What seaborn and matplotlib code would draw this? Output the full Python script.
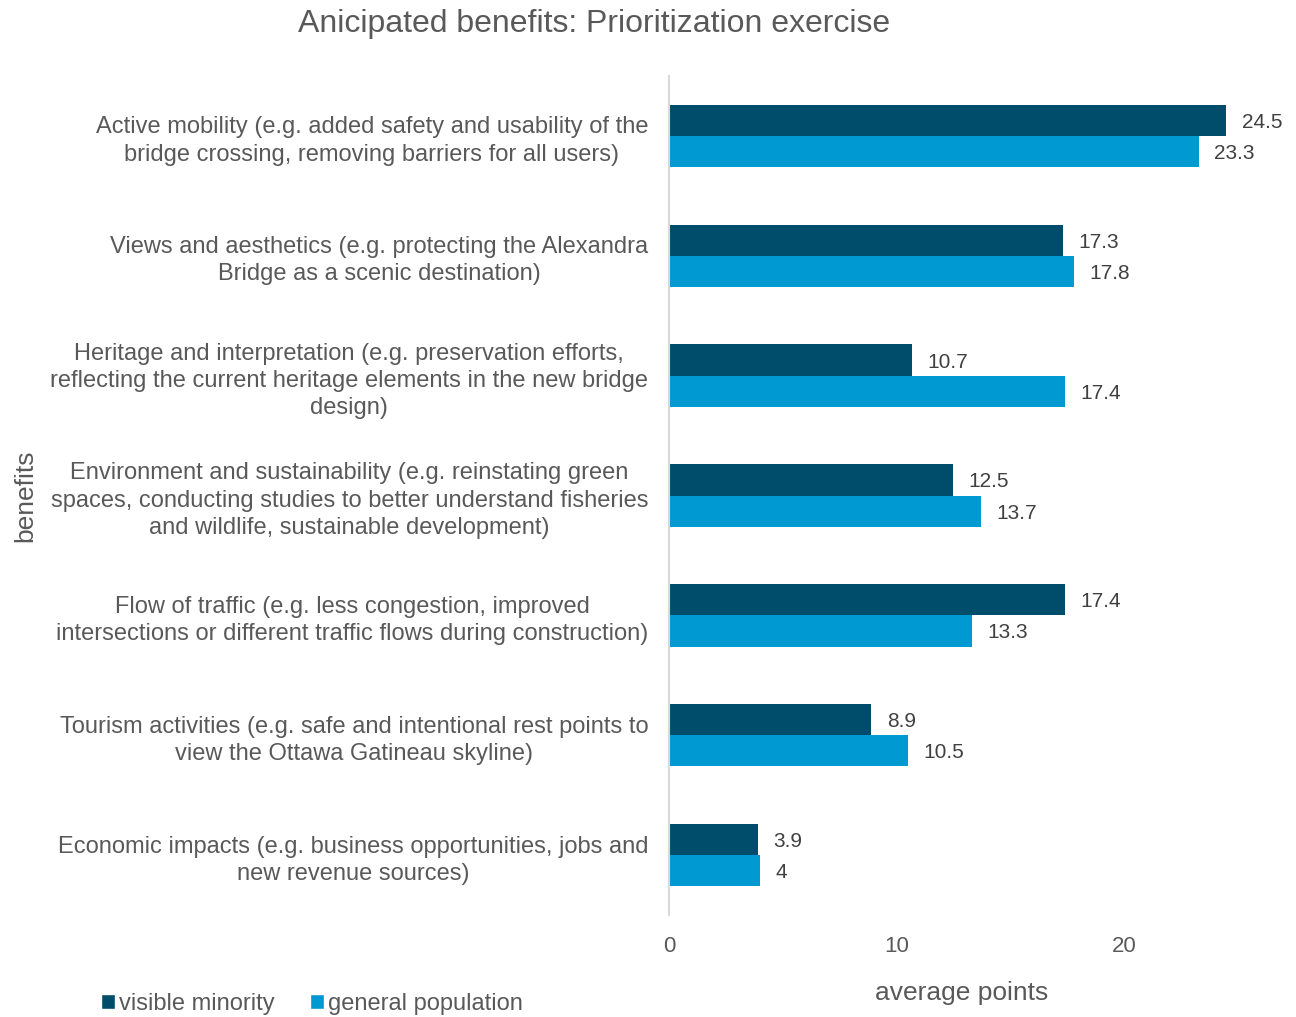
import matplotlib
matplotlib.use("Agg")
import matplotlib.pyplot as plt
import seaborn as sns
import pandas as pd
from matplotlib.patches import Patch

sns.set_theme(style="white")
plt.rcParams["font.family"] = ["Liberation Sans", "DejaVu Sans"]

categories = [
    "Active mobility (e.g. added safety and usability of the\nbridge crossing, removing barriers for all users)",
    "Views and aesthetics (e.g. protecting the Alexandra\nBridge as a scenic destination)",
    "Heritage and interpretation (e.g. preservation efforts,\nreflecting the current heritage elements in the new bridge\ndesign)",
    "Environment and sustainability (e.g. reinstating green\nspaces, conducting studies to better understand fisheries\nand wildlife, sustainable development)",
    "Flow of traffic (e.g. less congestion, improved\nintersections or different traffic flows during construction)",
    "Tourism activities (e.g. safe and intentional rest points to\nview the Ottawa Gatineau skyline)",
    "Economic impacts (e.g. business opportunities, jobs and\nnew revenue sources)",
]
visible_minority = [24.5, 17.3, 10.7, 12.5, 17.4, 8.9, 3.9]
general_population = [23.3, 17.8, 17.4, 13.7, 13.3, 10.5, 4.0]
series_names = ["visible minority", "general population"]
colors = ["#004d6b", "#0099d1"]

df = pd.DataFrame({
    "benefits": categories * 2,
    "average points": visible_minority + general_population,
    "group": [series_names[0]] * len(categories) + [series_names[1]] * len(categories),
})

fig = plt.figure(figsize=(12.96, 10.17), dpi=100)
ax = fig.add_axes([669 / 1296, 1 - 915 / 1017, (1256 - 669) / 1296, (915 - 76) / 1017])

sns.barplot(data=df, y="benefits", x="average points", hue="group",
            order=categories, hue_order=series_names, palette=colors,
            orient="h", width=0.52, ax=ax, legend=False, saturation=1,
            linewidth=0)

ax.set_xlim(0, 25.8)
ax.set_ylim(6.5, -0.5)
ax.set_xticks([0, 10, 20])
ax.tick_params(axis="x", labelsize=16, labelcolor="#595959", length=0, pad=15)
ax.tick_params(axis="y", labelsize=17, labelcolor="#595959", length=0, pad=15)
for lbl in ax.get_yticklabels():
    lbl.set_multialignment("center")
    lbl.set_linespacing(1.3)

for side in ["top", "right", "bottom"]:
    ax.spines[side].set_visible(False)
ax.spines["left"].set_color("#d9d9d9")
ax.spines["left"].set_linewidth(1.5)

for container in ax.containers:
    texts = ax.bar_label(container, labels=[f"{v:g}" for v in container.datavalues],
                         padding=11, fontsize=15, color="#404040")
    for t in texts:
        t.set_y(t.get_position()[1])
        t.set_va("center_baseline")

ax.set_xlabel("")
ax.set_ylabel("")
fig.text(962 / 1296, 1 - 993 / 1017, "average points", fontsize=19,
         color="#595959", ha="center", va="center")
fig.text(25 / 1296, 1 - 496 / 1017, "benefits", rotation=90, fontsize=19,
         color="#595959", ha="center", va="center")

fig.suptitle("Anicipated benefits: Prioritization exercise", x=594 / 1296,
             y=1 - 24 / 1017, va="center", fontsize=23, color="#595959")

handles = [Patch(facecolor=c, label=n) for c, n in zip(colors, series_names)]
fig.legend(handles=handles, loc="center left", bbox_to_anchor=(80 / 1296, 1 - 1004 / 1017),
           ncol=2, frameon=False, fontsize=17, labelcolor="#595959",
           handlelength=0.6, handleheight=0.6, handletextpad=0.15, columnspacing=1.5)

fig.savefig("out.png", dpi=100)
